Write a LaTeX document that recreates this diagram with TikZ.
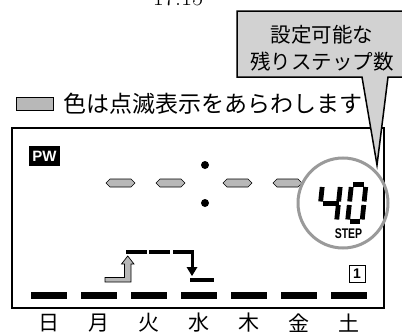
\documentclass[tikz,border=0pt]{standalone}
\usepackage{fontspec}
\setsansfont{Liberation Sans}
\newfontfamily\jp{Noto Sans CJK JP}
\definecolor{callgray}{HTML}{D2D2D2}
\definecolor{hexgray}{HTML}{B8B8B8}
\definecolor{ringgray}{HTML}{9A9A9A}
\tikzset{
  seg/.style={line width=4.8pt, line cap=butt},
  hexa/.style={fill=hexgray, draw=black, line width=0.6pt},
  daybar/.style={line width=7pt, line cap=butt},
  prog/.style={line width=4pt, line cap=butt},
  jptext/.style={font=\jp, inner sep=0pt},
}
\begin{document}
\begin{tikzpicture}[x=1pt,y=-1pt]
\useasboundingbox (0,0) rectangle (402,332);
% time label (cut at top)
\node[anchor=base, font=\fontsize{24}{26}\selectfont, inner sep=0pt] (time) at (178,5.5) {17.15};
% legend
\draw[fill=hexgray, line width=1pt] (16,97) rectangle (53,110);
\node[jptext, anchor=west, font=\jp\fontsize{23}{24}\selectfont] (legend) at (63,104) {色は点滅表示をあらわします};
% LCD frame
\draw[line width=2pt] (12,128) rectangle (384,308);
% PW
\node[fill=black, text=white, font=\sffamily\bfseries\fontsize{15}{15}\selectfont, minimum width=31pt, minimum height=20pt, inner sep=0pt] (pw) at (44.5,156) {PW};
% hexagons
\foreach \a in {106,156,223,273}{
  \draw[hexa] (\a,183) -- (\a+4,179) -- (\a+25,179) -- (\a+29,183) -- (\a+25,187) -- (\a+4,187) -- cycle;
}
\fill (205,165) circle[radius=4pt];
\fill (205,203) circle[radius=4pt];
% ring
\draw[ringgray, line width=3pt] (343,203) circle[radius=45pt];
% digits 4 0
\draw[seg] (322.18,187) -- (320.66,201.5);
\draw[seg] (340.18,187) -- (338.66,201.5);
\draw[seg] (322.5,203.25) -- (338.5,203.25);
\draw[seg] (338.29,205) -- (336.76,219.5);
\draw[seg] (353.45,184.5) -- (363.95,184.5);
\draw[seg] (351.18,187) -- (349.66,201.5);
\draw[seg] (365.68,187) -- (364.16,201.5);
\draw[seg] (349.29,205) -- (347.76,219.5);
\draw[seg] (363.79,205) -- (362.26,219.5);
\draw[seg] (349.5,221.75) -- (360,221.75);
\node[font=\sffamily\bfseries\fontsize{14}{14}\selectfont, xscale=0.75, inner sep=0pt] (step) at (348.5,234) {STEP};
% boxed 1
\node[draw, line width=1pt, minimum width=16pt, minimum height=17pt, inner sep=0pt, font=\sffamily\bfseries\fontsize{14}{14}\selectfont] (one) at (357,274) {1};
% program steps
\draw[prog] (126,252) -- (147,252);
\draw[prog] (149,252) -- (170,252);
\draw[prog] (173,252) -- (193,252);
\draw[fill=hexgray, line width=0.7pt] (105,277.5) -- (124.5,277.5) -- (124.5,264) -- (121.5,264) -- (127.75,256) -- (134,264) -- (131,264) -- (131,282) -- (105,282) -- cycle;
\draw[line width=3pt] (192,250) -- (192,268);
\fill (186.5,267) -- (197.5,267) -- (192,276) -- cycle;
\draw[prog] (190,279.5) -- (214,279.5);
% day bars and labels
\foreach \d [count=\i from 0] in {日,月,火,水,木,金,土}{
  \draw[daybar] (31+50*\i,295) -- (67+50*\i,295);
  \node[jptext, font=\jp\fontsize{21}{24}\selectfont] (day\i) at (49+50*\i,323) {\d};
}
% callout
\draw[fill=callgray, line width=1.5pt, line join=miter] (420,11) -- (237,11) -- (237,77) -- (362,77) -- (377,165) -- (388,77) -- (420,77) -- cycle;
\node[jptext, font=\jp\fontsize{20.5}{27}\selectfont, align=center] (callout) at (322,48) {設定可能な\\残りステップ数};
\end{tikzpicture}
\end{document}
